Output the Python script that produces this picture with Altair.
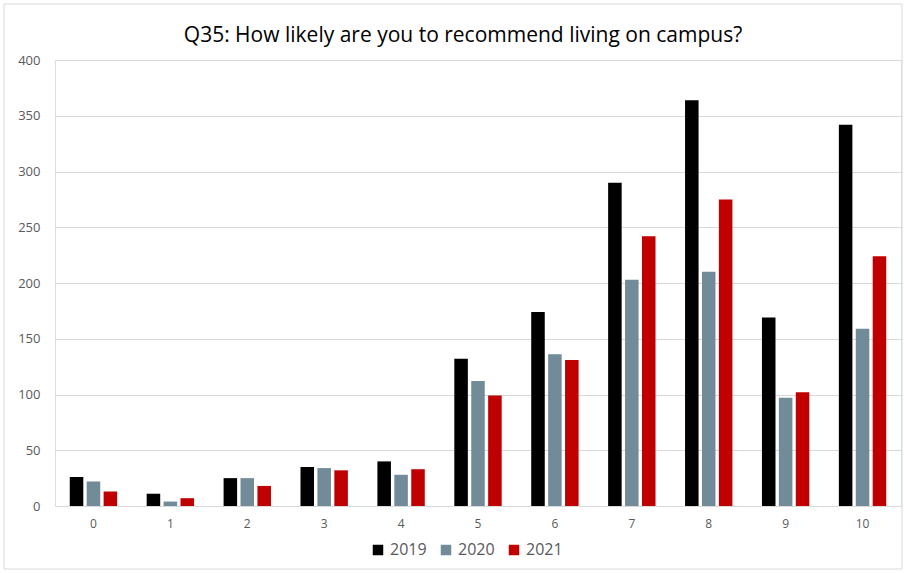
import altair as alt
import pandas as pd

# Survey responses per rating, by year
ratings = ["0", "1", "2", "3", "4", "5", "6", "7", "8", "9", "10"]
years = ["2019", "2020", "2021"]
counts_2019 = [26, 11, 25, 35, 40, 132, 174, 290, 364, 169, 342]
counts_2020 = [22, 4, 25, 34, 28, 112, 136, 203, 210, 97, 159]
counts_2021 = [13, 7, 18, 32, 33, 99, 131, 242, 275, 102, 224]
colors = ["#000000", "#718C98", "#C00000"]

rows = []
for year, series in zip(years, [counts_2019, counts_2020, counts_2021]):
    for r, v in zip(ratings, series):
        rows.append({"rating": r, "year": year, "count": v})
df = pd.DataFrame(rows)

FONT = "Open Sans"
TEXT = "#595959"
GRID = "#D9D9D9"

bars = alt.Chart(df).mark_bar().encode(
    x=alt.X(
        "rating:N",
        sort=ratings,
        title=None,
        scale=alt.Scale(paddingInner=0.34, paddingOuter=0.17),
        axis=alt.Axis(
            labelAngle=0,
            ticks=False,
            domainColor=GRID,
            labelColor=TEXT,
            labelFont=FONT,
            labelFontSize=12,
            labelPadding=12,
        ),
    ),
    xOffset=alt.XOffset(
        "year:N", sort=years, scale=alt.Scale(paddingInner=0.2, paddingOuter=0.1)
    ),
    y=alt.Y(
        "count:Q",
        title=None,
        scale=alt.Scale(domain=[0, 400]),
        axis=alt.Axis(
            values=[0, 50, 100, 150, 200, 250, 300, 350, 400],
            domain=False,
            ticks=False,
            gridColor=GRID,
            labelColor=TEXT,
            labelFont=FONT,
            labelFontSize=13,
            labelPadding=15,
        ),
    ),
    color=alt.Color(
        "year:N",
        sort=years,
        scale=alt.Scale(domain=years, range=colors),
        legend=alt.Legend(
            title=None,
            orient="none",
            direction="horizontal",
            legendX=315,
            legendY=482,
            symbolType="square",
            symbolSize=110,
            symbolStrokeWidth=0,
            labelFont=FONT,
            labelFontSize=16,
            labelColor=TEXT,
            columnPadding=11,
            labelOffset=4,
        ),
    ),
)

# light frame around the whole chart
frame = alt.Chart(pd.DataFrame({"k": [0]})).mark_rect(
    fill=None, stroke=GRID, strokeWidth=1
).encode(
    x=alt.value(-51), x2=alt.value(847), y=alt.value(-56), y2=alt.value(509)
)

chart = (
    alt.layer(frame, bars)
    .properties(
        width=846,
        height=446,
        autosize=alt.AutoSizeParams(type="none"),
        padding={"left": 55, "top": 60, "right": 5, "bottom": 67},
        title=alt.TitleParams(
            "Q35: How likely are you to recommend living on campus?",
            font=FONT,
            fontSize=21,
            fontWeight="normal",
            color="#000000",
            anchor="middle",
            dx=-15,
            offset=-42,
        ),
    )
    .configure_view(stroke=None)
    .configure(background="white")
)

chart.save("out.html", embed_options={"renderer": "svg", "actions": False})
